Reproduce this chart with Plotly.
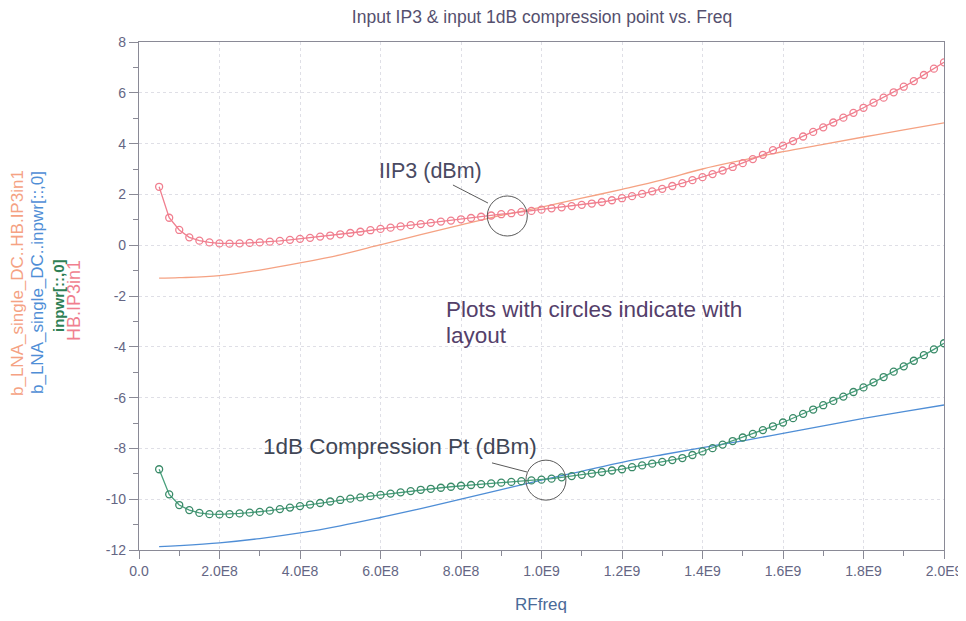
import plotly.graph_objects as go

# ---------------- data ----------------
# swept frequency for the circle-marker (layout) traces: 5E7 .. 2E9, step 2.5E7
freq_sweep = [5e7 + 2.5e7 * i for i in range(79)]

hb_ip3in1 = [
    2.30, 1.08, 0.60, 0.31, 0.18, 0.11, 0.07, 0.06, 0.07, 0.09,
    0.11, 0.14, 0.17, 0.21, 0.25, 0.29, 0.34, 0.38, 0.43, 0.48,
    0.53, 0.59, 0.64, 0.69, 0.74, 0.79, 0.83, 0.88, 0.93, 0.97,
    1.02, 1.07, 1.12, 1.17, 1.22, 1.26, 1.31, 1.35, 1.40, 1.45,
    1.49, 1.54, 1.59, 1.64, 1.70, 1.77, 1.85, 1.93, 2.02, 2.12,
    2.22, 2.33, 2.44, 2.56, 2.68, 2.80, 2.94, 3.08, 3.23, 3.39,
    3.56, 3.74, 3.92, 4.10, 4.28, 4.46, 4.64, 4.83, 5.02, 5.21,
    5.41, 5.61, 5.81, 6.02, 6.24, 6.46, 6.70, 6.95, 7.20,
]

inpwr = [
    -8.82, -9.81, -10.23, -10.43, -10.54, -10.59, -10.60, -10.59, -10.56, -10.53,
    -10.50, -10.45, -10.39, -10.33, -10.27, -10.21, -10.15, -10.09, -10.03, -9.98,
    -9.93, -9.88, -9.83, -9.78, -9.73, -9.68, -9.63, -9.59, -9.55, -9.51,
    -9.47, -9.44, -9.41, -9.38, -9.35, -9.32, -9.29, -9.26, -9.23, -9.19,
    -9.14, -9.09, -9.04, -8.99, -8.93, -8.87, -8.82, -8.74, -8.67, -8.60,
    -8.53, -8.46, -8.38, -8.26, -8.12, -7.99, -7.85, -7.71, -7.57, -7.43,
    -7.28, -7.13, -6.98, -6.81, -6.64, -6.47, -6.30, -6.13, -5.96, -5.78,
    -5.60, -5.40, -5.19, -4.98, -4.77, -4.55, -4.33, -4.10, -3.86,
]

# schematic (no-layout) traces, plain lines
freq_sch = [5e7, 1e8, 2e8, 3e8, 4e8, 5e8, 6e8, 7e8, 8e8, 9e8, 1.0e9,
            1.1e9, 1.2e9, 1.3e9, 1.4e9, 1.5e9, 1.6e9, 1.7e9, 1.8e9, 1.9e9, 2.0e9]
sch_ip3in1 = [-1.30, -1.28, -1.20, -0.98, -0.70, -0.38, 0.02, 0.42, 0.80, 1.17, 1.50,
              1.85, 2.20, 2.57, 3.00, 3.35, 3.68, 3.97, 4.26, 4.54, 4.82]
sch_inpwr = [-11.87, -11.83, -11.72, -11.55, -11.33, -11.05, -10.72, -10.37, -10.00, -9.62, -9.25,
             -8.90, -8.55, -8.25, -7.97, -7.70, -7.41, -7.11, -6.82, -6.55, -6.29]

x_tickvals = [0, 2e8, 4e8, 6e8, 8e8, 1.0e9, 1.2e9, 1.4e9, 1.6e9, 1.8e9, 2.0e9]
x_ticktext = ["0.0", "2.0E8", "4.0E8", "6.0E8", "8.0E8", "1.0E9", "1.2E9", "1.4E9", "1.6E9", "1.8E9", "2.0E9"]
y_tickvals = [8, 6, 4, 2, 0, -2, -4, -6, -8, -10, -12]
y_ticktext = ["8", "6", "4", "2", "0", "-2", "-4", "-6", "-8", "-10", "-12"]

title_text = "Input IP3 & input 1dB compression point vs. Freq"
x_title = "RFfreq"
y_labels = ["b_LNA_single_DC..HB.IP3in1", "b_LNA_single_DC..inpwr[::,0]", "inpwr[::,0]", "HB.IP3in1"]

# ---------------- styling ----------------
C_ORANGE = "#f5a283"
C_PINK = "#f07f8f"
C_BLUE = "#4f8ed6"
C_GREEN = "#48a07c"
C_GREEN_DK = "#3a8a68"
FONT = "Liberation Sans, Arial, sans-serif"

OFF = 8                      # page body margin of the browser
W, H = 966 - OFF, 621 - OFF
L, R, T, B = 139 - OFF, 22, 42 - OFF, 71
PW, PH = W - L - R, H - T - B


def px_x(px):
    return (px - OFF - L) / PW


def px_y(py):
    return (H + OFF - B - py) / PH


fig = go.Figure()

fig.add_trace(go.Scatter(x=freq_sch, y=sch_ip3in1, mode="lines",
                         line=dict(color=C_ORANGE, width=1.3, shape="spline"),
                         name=y_labels[0], showlegend=False))
fig.add_trace(go.Scatter(x=freq_sweep, y=hb_ip3in1, mode="lines+markers",
                         line=dict(color=C_PINK, width=1.3),
                         marker=dict(symbol="circle-open", size=7, color=C_PINK,
                                     line=dict(width=1.3, color=C_PINK)),
                         name=y_labels[3], showlegend=False))
fig.add_trace(go.Scatter(x=freq_sch, y=sch_inpwr, mode="lines",
                         line=dict(color=C_BLUE, width=1.3, shape="spline"),
                         name=y_labels[1], showlegend=False))
fig.add_trace(go.Scatter(x=freq_sweep, y=inpwr, mode="lines+markers",
                         line=dict(color=C_GREEN, width=1.3),
                         marker=dict(symbol="circle-open", size=7, color=C_GREEN_DK,
                                     line=dict(width=1.3, color=C_GREEN_DK)),
                         name=y_labels[2], showlegend=False))

# annotation circles / pointers (layout decoration)
RX = 20 / PW * 2e9
RY = 20 / PH * 20
circles = [(0.915e9, 1.15), (1.011e9, -9.25)]
shapes = []
for cx, cy in circles:
    shapes.append(dict(type="circle", xref="x", yref="y",
                       x0=cx - RX, x1=cx + RX, y0=cy - RY, y1=cy + RY,
                       line=dict(color="#5a5a5a", width=1)))
pointers = [((0.780e9, 2.37), (0.867e9, 1.66)), ((0.877e9, -8.57), (0.964e9, -8.93))]
for (xa, ya), (xb, yb) in pointers:
    shapes.append(dict(type="line", xref="x", yref="y", x0=xa, y0=ya, x1=xb, y1=yb,
                       line=dict(color="#5a5a5a", width=1)))

annotations = [
    dict(text="IIP3 (dBm)", x=0.591e9, y=2.91, xref="x", yref="y", xanchor="left", yanchor="middle",
         showarrow=False, font=dict(family=FONT, size=21.5, color="#4a4a62")),
    dict(text="1dB Compression Pt (dBm)", x=0.304e9, y=-7.94, xref="x", yref="y",
         xanchor="left", yanchor="middle", showarrow=False,
         font=dict(family=FONT, size=22.5, color="#3f4656")),
    dict(text="Plots with circles indicate with", x=0.757e9, y=-2.55, xref="x", yref="y",
         xanchor="left", yanchor="middle", showarrow=False,
         font=dict(family=FONT, size=22.5, color="#54406a")),
    dict(text="layout", x=0.757e9, y=-3.54, xref="x", yref="y",
         xanchor="left", yanchor="middle", showarrow=False,
         font=dict(family=FONT, size=22.5, color="#54406a")),
    dict(text=x_title, x=px_x(541), y=px_y(604), xref="paper", yref="paper",
         xanchor="center", yanchor="middle", showarrow=False,
         font=dict(family=FONT, size=17, color="#4a6a98")),
]

ylab_pos = [(17, 283, C_ORANGE, 17, False), (37, 283, C_BLUE, 17, False),
            (58, 296, "#2f7f55", 15, True), (74, 301, C_PINK, 18, False)]
for txt, (px, py, col, sz, bold) in zip(y_labels, ylab_pos):
    annotations.append(dict(text=("<b>%s</b>" % txt) if bold else txt,
                            x=px_x(px), y=px_y(py), xref="paper", yref="paper",
                            xanchor="center", yanchor="middle", textangle=-90, showarrow=False,
                            font=dict(family=FONT, size=sz, color=col)))

fig.update_layout(
    width=W, height=H,
    margin=dict(l=L, r=R, t=T, b=B, autoexpand=False),
    paper_bgcolor="white", plot_bgcolor="white",
    title=dict(text=title_text, x=px_x(542), xanchor="center", y=1 - 3 / H, yanchor="top",
               xref="paper", automargin=False, font=dict(family=FONT, size=17.5, color="#55506e")),
    shapes=shapes, annotations=annotations, showlegend=False,
)

fig.update_xaxes(range=[0, 2e9], tickvals=x_tickvals, ticktext=x_ticktext, automargin=False,
                 showline=True, linecolor="#8a8a96", linewidth=1.2, mirror=True,
                 ticks="outside", ticklen=8, tickcolor="#8a8a96",
                 minor=dict(dtick=1e8, tick0=0, ticks="outside", ticklen=5, tickcolor="#8a8a96", showgrid=False),
                 showgrid=True, gridcolor="#dfdfe6", griddash="dot", gridwidth=1, zeroline=False,
                 tickfont=dict(family=FONT, size=14, color="#646684"))
fig.update_yaxes(range=[-12, 8], tickvals=y_tickvals, ticktext=y_ticktext, automargin=False,
                 showline=True, linecolor="#8a8a96", linewidth=1.2, mirror=True,
                 ticks="outside", ticklen=9, tickcolor="#8a8a96",
                 minor=dict(dtick=1, tick0=0, ticks="outside", ticklen=5, tickcolor="#8a8a96", showgrid=False),
                 showgrid=True, gridcolor="#dfdfe6", griddash="dot", gridwidth=1, zeroline=False,
                 tickfont=dict(family=FONT, size=14, color="#646684"))

fig.write_html("out.html")
